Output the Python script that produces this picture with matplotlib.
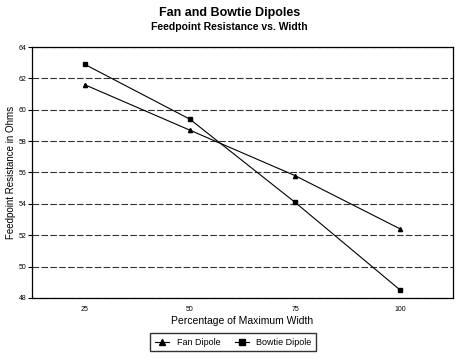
import matplotlib.pyplot as plt
from matplotlib.lines import Line2D

plt.rcParams['font.family'] = ['Liberation Sans', 'DejaVu Sans']

widths = ['25', '50', '75', '100']
fan_dipole = [61.6, 58.7, 55.8, 52.4]
bowtie_dipole = [62.9, 59.4, 54.1, 48.5]
y_ticks = [48, 50, 52, 54, 56, 58, 60, 62, 64]

fig = plt.figure(figsize=(4.59, 3.59), dpi=100)
ax = fig.add_axes([0.0697, 0.170, 0.917, 0.699])

x = range(len(widths))
ax.plot(x, fan_dipole, color='black', lw=0.8, marker='^', ms=3)
ax.plot(x, bowtie_dipole, color='black', lw=0.8, marker='s', ms=3)

ax.set_xlim(-0.5, len(widths) - 0.5)
ax.set_ylim(48, 64)
ax.set_xticks(list(x))
ax.set_xticklabels(widths, fontsize=5)
ax.set_yticks(y_ticks)
ax.set_yticklabels([str(v) for v in y_ticks], fontsize=5)
ax.tick_params(axis='x', length=0, pad=6)
ax.tick_params(axis='y', length=3, width=0.8, pad=1)
ax.yaxis.grid(True, color='#333333', lw=0.8, linestyle=(0, (6, 2)))
ax.set_axisbelow(True)
for s in ax.spines.values():
    s.set_linewidth(0.9)

ax.set_xlabel('Percentage of Maximum Width', fontsize=7.5, labelpad=2)
ax.set_ylabel('Feedpoint Resistance in Ohms', fontsize=7, labelpad=2)

fig.text(0.5, 0.965, 'Fan and Bowtie Dipoles', ha='center', va='center',
         fontsize=9, fontweight='bold')
fig.text(0.5, 0.925, 'Feedpoint Resistance vs. Width', ha='center', va='center',
         fontsize=7.5, fontweight='bold')

handles = [Line2D([], [], color='black', lw=0.8, marker='^', ms=5),
           Line2D([], [], color='black', lw=0.8, marker='s', ms=4)]
fig.legend(handles, ['Fan Dipole', 'Bowtie Dipole'], loc='center',
           bbox_to_anchor=(0.508, 0.046), ncol=2, fontsize=6.5,
           frameon=True, fancybox=False, edgecolor='black',
           handlelength=1.6, columnspacing=1.6, borderpad=0.5)

fig.savefig('out.png', dpi=100)
